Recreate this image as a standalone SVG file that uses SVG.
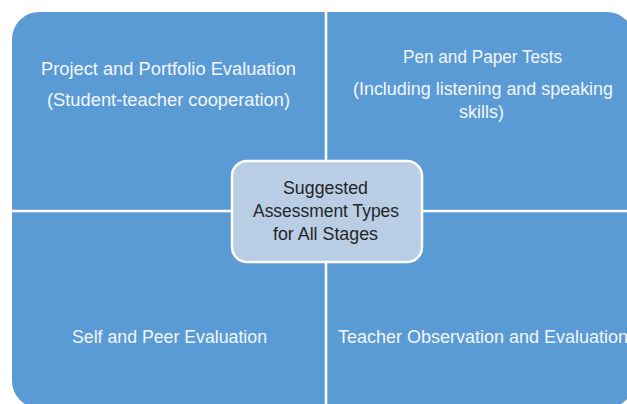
<svg xmlns="http://www.w3.org/2000/svg" width="627" height="404" viewBox="0 0 627 404">
<style>
.q{fill:#5b9bd5}
.t{font-family:"Liberation Sans",Arial,sans-serif;font-size:17.5px;fill:#f2f6fb;text-anchor:middle}
.c{font-family:"Liberation Sans",Arial,sans-serif;font-size:17.5px;fill:#262626;text-anchor:middle}
.div{stroke:#ffffff;stroke-width:2.5}
</style>
<rect width="627" height="404" fill="#ffffff"/>
<g id="background">
<rect class="q" x="12" y="12" width="622" height="396" rx="27" ry="27"/>
</g>
<g id="connectors">
<line class="div" x1="326" y1="0" x2="326" y2="404"/>
<line class="div" x1="0" y1="211" x2="627" y2="211"/>
</g>
<g id="project">
<text class="t" x="168.5" y="75" textLength="255" lengthAdjust="spacingAndGlyphs">Project and Portfolio Evaluation</text>
<text class="t" x="168.5" y="106" textLength="243" lengthAdjust="spacingAndGlyphs">(Student-teacher cooperation)</text>
</g>
<g id="pen">
<text class="t" x="482.5" y="63" textLength="159" lengthAdjust="spacingAndGlyphs">Pen and Paper Tests</text>
<text class="t" x="483" y="95" textLength="260" lengthAdjust="spacingAndGlyphs">(Including listening and speaking</text>
<text class="t" x="481.5" y="118" textLength="45" lengthAdjust="spacingAndGlyphs">skills)</text>
</g>
<g id="self">
<text class="t" x="169.5" y="343" textLength="195" lengthAdjust="spacingAndGlyphs">Self and Peer Evaluation</text>
</g>
<g id="teacher">
<text class="t" x="483" y="343" textLength="290" lengthAdjust="spacingAndGlyphs">Teacher Observation and Evaluation</text>
</g>
<g id="center">
<rect x="232" y="161" width="190" height="101" rx="15" ry="15" fill="#b9cde5" stroke="#ffffff" stroke-width="2.5"/>
<text class="c" x="325.5" y="194" textLength="85" lengthAdjust="spacingAndGlyphs">Suggested</text>
<text class="c" x="326" y="217" textLength="146" lengthAdjust="spacingAndGlyphs">Assessment Types</text>
<text class="c" x="325.5" y="240" textLength="105" lengthAdjust="spacingAndGlyphs">for All Stages</text>
</g>
</svg>
